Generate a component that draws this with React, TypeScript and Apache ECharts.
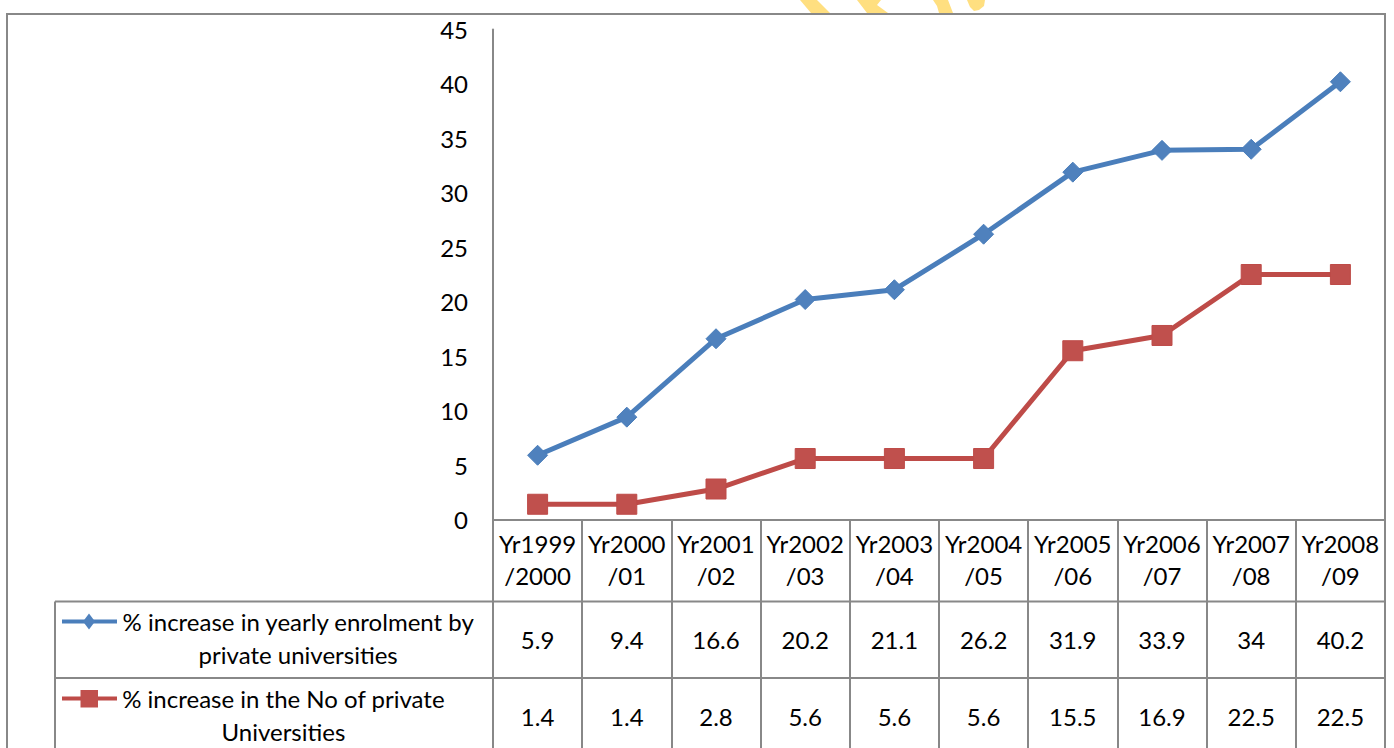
import React, { useEffect, useRef } from "react";
import * as echarts from "echarts";

// Academic years (two-line header cells of the data table)
const categories = [
  "Yr1999/2000",
  "Yr2000/01",
  "Yr2001/02",
  "Yr2002/03",
  "Yr2003/04",
  "Yr2004/05",
  "Yr2005/06",
  "Yr2006/07",
  "Yr2007/08",
  "Yr2008/09",
];

const enrolmentName = "% increase in yearly enrolment by private universities";
const enrolmentValues = [5.9, 9.4, 16.6, 20.2, 21.1, 26.2, 31.9, 33.9, 34, 40.2];

const universitiesName = "% increase in the No of private Universities";
const universitiesValues = [1.4, 1.4, 2.8, 5.6, 5.6, 5.6, 15.5, 16.9, 22.5, 22.5];

const yMin = 0;
const yMax = 45;
const yStep = 5;

const FONT = "Lato, 'Open Sans', sans-serif";
const FONT_SIZE = 24;
const GRAY = "#888888";
const BLUE = "#4A7EBB";
const BLUE_MARK = "#4F81BD";
const RED = "#BE4B48";
const RED_MARK = "#C0504D";

// Table geometry (rows under the category axis)
const TABLE_LEFT = 55;
const ROW1_TOP = 601.5;
const ROW2_TOP = 678;
const ROW2_BOTTOM = 755;
const RIGHT_EDGE = 1385;

export default function App() {
  const ref = useRef<HTMLDivElement>(null);

  useEffect(() => {
    if (!ref.current) return;
    const chart = echarts.init(ref.current, undefined, { renderer: "svg" });

    chart.setOption({
      animation: false,
      backgroundColor: "#ffffff",
      grid: { left: 493, right: 1394 - RIGHT_EDGE, top: 29.5, bottom: 748 - 519.5, containLabel: false },
      xAxis: {
        type: "category",
        data: categories,
        boundaryGap: true,
        axisLine: { show: true, lineStyle: { color: GRAY, width: 2 } },
        axisTick: { show: true, interval: 0, inside: false, length: 240, lineStyle: { color: GRAY, width: 2 } },
        axisLabel: {
          interval: 0,
          margin: 8,
          color: "#000",
          fontFamily: FONT,
          fontSize: FONT_SIZE,
          lineHeight: 32,
          formatter: (v: string) => v.replace("/", "\n/"),
        },
        splitLine: { show: false },
      },
      yAxis: {
        type: "value",
        min: yMin,
        max: yMax,
        interval: yStep,
        axisLine: { show: true, lineStyle: { color: GRAY, width: 2 } },
        axisTick: { show: false },
        splitLine: { show: false },
        axisLabel: { margin: 25, color: "#000", fontFamily: FONT, fontSize: FONT_SIZE },
      },
      series: [
        {
          name: enrolmentName,
          type: "line",
          data: enrolmentValues,
          symbol: "diamond",
          symbolSize: 20,
          lineStyle: { color: BLUE, width: 5 },
          itemStyle: { color: BLUE_MARK, borderColor: BLUE, borderWidth: 1 },
          z: 3,
        },
        {
          name: universitiesName,
          type: "line",
          data: universitiesValues,
          symbol: "rect",
          symbolSize: 20,
          lineStyle: { color: RED, width: 5 },
          itemStyle: { color: RED_MARK, borderColor: RED, borderWidth: 1 },
          z: 3,
        },
      ],
    });

    // Cell centres of the data table, taken from the category axis
    const centers = categories.map((_, i) => chart.convertToPixel({ xAxisIndex: 0 }, i) as number);

    const ctx = document.createElement("canvas").getContext("2d");
    const measure = (s: string) => {
      if (!ctx) return s.length * 11;
      ctx.font = `${FONT_SIZE}px ${FONT}`;
      return ctx.measureText(s).width;
    };

    const textStyle = { fill: "#000", font: `${FONT_SIZE}px ${FONT}` };

    const valueTexts: any[] = [];
    centers.forEach((cx, i) => {
      valueTexts.push({
        type: "text",
        x: cx,
        y: (ROW1_TOP + ROW2_TOP) / 2,
        style: { ...textStyle, text: String(enrolmentValues[i]), align: "center", verticalAlign: "middle" },
      });
      valueTexts.push({
        type: "text",
        x: cx,
        y: (ROW2_TOP + ROW2_BOTTOM) / 2,
        style: { ...textStyle, text: String(universitiesValues[i]), align: "center", verticalAlign: "middle" },
      });
    });

    const legendText = (lines: string[], x0: number, yc: number) => ({
      type: "text",
      x: x0 + measure(lines[0]) / 2,
      y: yc,
      style: {
        ...textStyle,
        text: lines.join("\n"),
        align: "center",
        verticalAlign: "middle",
        lineHeight: 33,
      },
    });

    const gold = "#FFDF80";

    chart.setOption({
      graphic: [
        // faint gold mark showing above the frame
        { type: "polygon", z: 1, shape: { points: [[800, 0], [817, 0], [830, 13], [811, 13]] }, style: { fill: gold } },
        { type: "polygon", z: 1, shape: { points: [[857, 0], [881, 0], [877, 5], [888, 13], [867, 13]] }, style: { fill: gold } },
        { type: "polygon", z: 1, shape: { points: [[933, 0], [948, 0], [953, 13], [939, 13], [937, 6]] }, style: { fill: gold } },
        { type: "polygon", z: 1, shape: { points: [[967, 0], [985, 0], [984, 6], [979, 10], [974, 11], [970, 7]] }, style: { fill: gold } },
        // outer frame
        { type: "rect", z: 10, shape: { x: 7, y: 14, width: RIGHT_EDGE - 7, height: 800 }, style: { fill: "none", stroke: GRAY, lineWidth: 2 } },
        // table rules
        { type: "line", z: 10, shape: { x1: TABLE_LEFT, y1: ROW1_TOP, x2: RIGHT_EDGE, y2: ROW1_TOP }, style: { stroke: GRAY, lineWidth: 2 } },
        { type: "line", z: 10, shape: { x1: TABLE_LEFT, y1: ROW2_TOP, x2: RIGHT_EDGE, y2: ROW2_TOP }, style: { stroke: GRAY, lineWidth: 2 } },
        { type: "line", z: 10, shape: { x1: TABLE_LEFT, y1: ROW1_TOP, x2: TABLE_LEFT, y2: 800 }, style: { stroke: GRAY, lineWidth: 2 } },
        // legend keys
        { type: "line", z: 10, shape: { x1: 62, y1: 621.5, x2: 117, y2: 621.5 }, style: { stroke: BLUE, lineWidth: 4 } },
        { type: "polygon", z: 11, shape: { points: [[89, 613.5], [95, 621.5], [89, 629.5], [83, 621.5]] }, style: { fill: BLUE_MARK } },
        { type: "line", z: 10, shape: { x1: 62, y1: 698.5, x2: 117, y2: 698.5 }, style: { stroke: RED, lineWidth: 4 } },
        { type: "rect", z: 11, shape: { x: 80.5, y: 690, width: 17.5, height: 17.5 }, style: { fill: RED_MARK } },
        legendText(["% increase in yearly enrolment by", "private universities"], 122, 637.5),
        legendText(["% increase in the No of private", "Universities"], 122, 714.5),
        ...valueTexts,
      ],
    });

    return () => chart.dispose();
  }, []);

  return (
    <div
      ref={ref}
      style={{ position: "absolute", left: 0, top: 0, width: 1394, height: 748, background: "#fff" }}
    />
  );
}
